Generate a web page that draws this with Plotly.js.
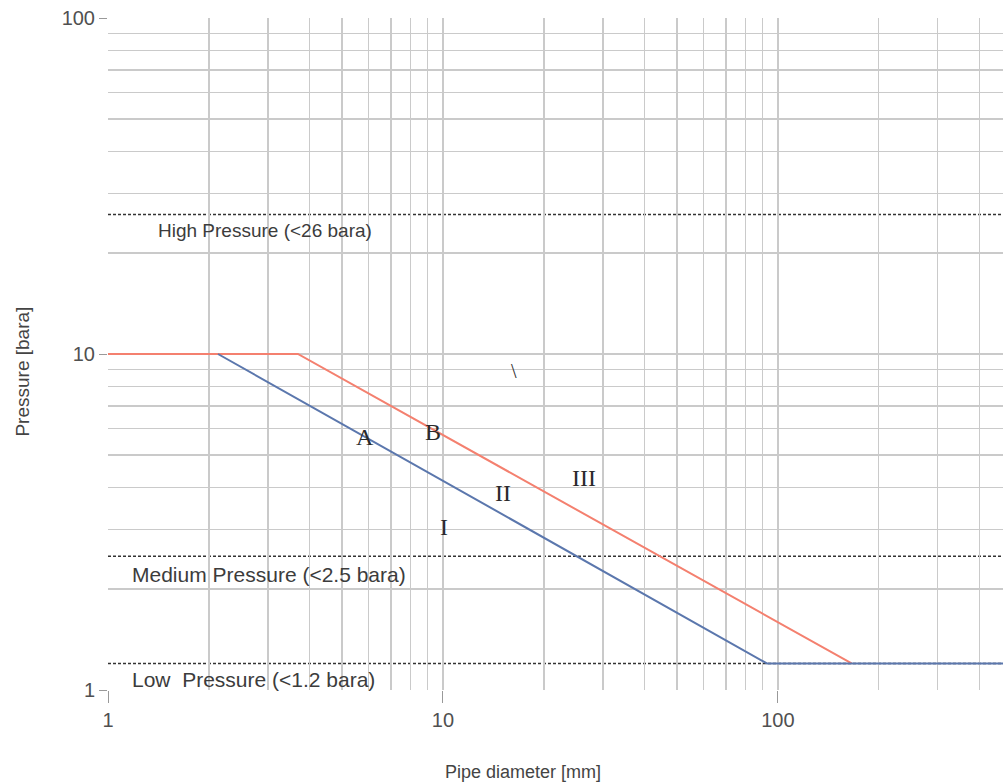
<!DOCTYPE html>
<html>
<head>
<meta charset="utf-8">
<script src="https://cdn.plot.ly/plotly-3.0.1.min.js"></script>
<style>html,body{margin:0;padding:0;background:#fff;}#chart{width:1003px;height:784px;}</style>
</head>
<body>
<div id="chart"></div>
<script>
// Boundary B (red)
const curveB_x = [1, 3.69, 166];
const curveB_y = [10, 10, 1.2];
// Boundary A (blue)
const curveA_x = [2.13, 92.7, 500];
const curveA_y = [10, 1.2, 1.2];

// Pressure class limits
const limitValues = [26, 2.5, 1.2];
const limitLabels = ["High Pressure (&lt;26 bara)", "Medium Pressure (&lt;2.5 bara)", "Low  Pressure (&lt;1.2 bara)"];

// Region / curve labels (diameter, pressure)
const zoneLabels = ["A", "B", "I", "II", "III", "\\"];
const zoneX = [5.86, 9.33, 10.07, 15.1, 26.4, 16.3];
const zoneY = [5.66, 5.86, 3.05, 3.85, 4.27, 8.9];

const xTicks = [1, 10, 100];
const yTicks = [1, 10, 100];
const xRange = [1, 470];
const yRange = [1, 100];

function minorVals(lo, hi) {
  const out = [];
  for (let d = lo; d < hi; d *= 10) for (let k = 2; k <= 9; k++) out.push(d * k);
  return out;
}

const traces = [
  {x: curveB_x, y: curveB_y, mode: 'lines', line: {color: '#f4806f', width: 2}, hoverinfo: 'skip'},
  {x: curveA_x, y: curveA_y, mode: 'lines', line: {color: '#5b77ad', width: 2}, hoverinfo: 'skip'}
];

const shapes = limitValues.map(v => ({
  type: 'line', xref: 'paper', x0: 0, x1: 1, yref: 'y', y0: v, y1: v,
  line: {color: '#333333', width: 1.5, dash: '3px,2px'}, layer: 'below'
}));

const sansFont = 'Liberation Sans, Arial, sans-serif';
const limitShift = [-3, -5, -3];
const limitXShift = [26, 0, 0];
const limitSize = [19, 21, 21];
const annotations = limitLabels.map((t, i) => ({
  text: t, xref: 'paper', yref: 'y', x: 0.0246, y: Math.log10(limitValues[i]),
  xanchor: 'left', yanchor: 'top', align: 'left', yshift: limitShift[i], xshift: limitXShift[i], showarrow: false,
  font: {family: sansFont, size: limitSize[i], color: '#3c3c3c'}
})).concat(zoneLabels.map((t, i) => ({
  text: t, xref: 'x', yref: 'y', x: Math.log10(zoneX[i]), y: Math.log10(zoneY[i]),
  xanchor: 'center', yanchor: 'middle', showarrow: false,
  font: {family: 'Liberation Serif, Times New Roman, serif', size: i === 5 ? 20 : 24, color: '#2a2a2a'}
}))).concat([
  {text: 'Pipe diameter [mm]', xref: 'paper', yref: 'paper', x: 0.4637, y: -0.122,
   xanchor: 'center', yanchor: 'middle', showarrow: false, font: {family: sansFont, size: 18, color: '#444'}},
  {text: 'Pressure [bara]', xref: 'paper', yref: 'paper', x: -0.096, y: 0.474, textangle: -90,
   xanchor: 'center', yanchor: 'middle', showarrow: false, font: {family: sansFont, size: 19, color: '#444'}}
]);

const gridColor = '#cacaca';
const layout = {
  width: 1003, height: 784,
  margin: {l: 108, r: 0, t: 18, b: 94},
  paper_bgcolor: '#fff', plot_bgcolor: '#fff',
  showlegend: false,
  font: {family: sansFont, color: '#444'},
  xaxis: {
    type: 'log', range: xRange.map(Math.log10),
    tickvals: xTicks, ticktext: xTicks.map(String),
    ticks: 'outside', ticklen: 12, tickcolor: '#999', tickwidth: 1,
    tickfont: {size: 20, color: '#505050'},
    showgrid: true, gridcolor: gridColor, gridwidth: 1.5,
    minor: {tickvals: minorVals(1, 1000), showgrid: true, gridcolor: gridColor, gridwidth: 1.5, ticks: ''},
    showline: false, zeroline: false
  },
  yaxis: {
    type: 'log', range: yRange.map(Math.log10),
    tickvals: yTicks, ticktext: yTicks.map(String),
    ticks: 'outside', ticklen: 8, tickcolor: '#999', tickwidth: 1,
    tickfont: {size: 20, color: '#505050'},
    showgrid: true, gridcolor: gridColor, gridwidth: 1.5,
    minor: {tickvals: minorVals(1, 100), showgrid: true, gridcolor: gridColor, gridwidth: 1.5, ticks: ''},
    showline: false, zeroline: false
  },
  shapes: shapes,
  annotations: annotations
};

Plotly.newPlot('chart', traces, layout, {staticPlot: true, displayModeBar: false});
</script>
</body>
</html>
